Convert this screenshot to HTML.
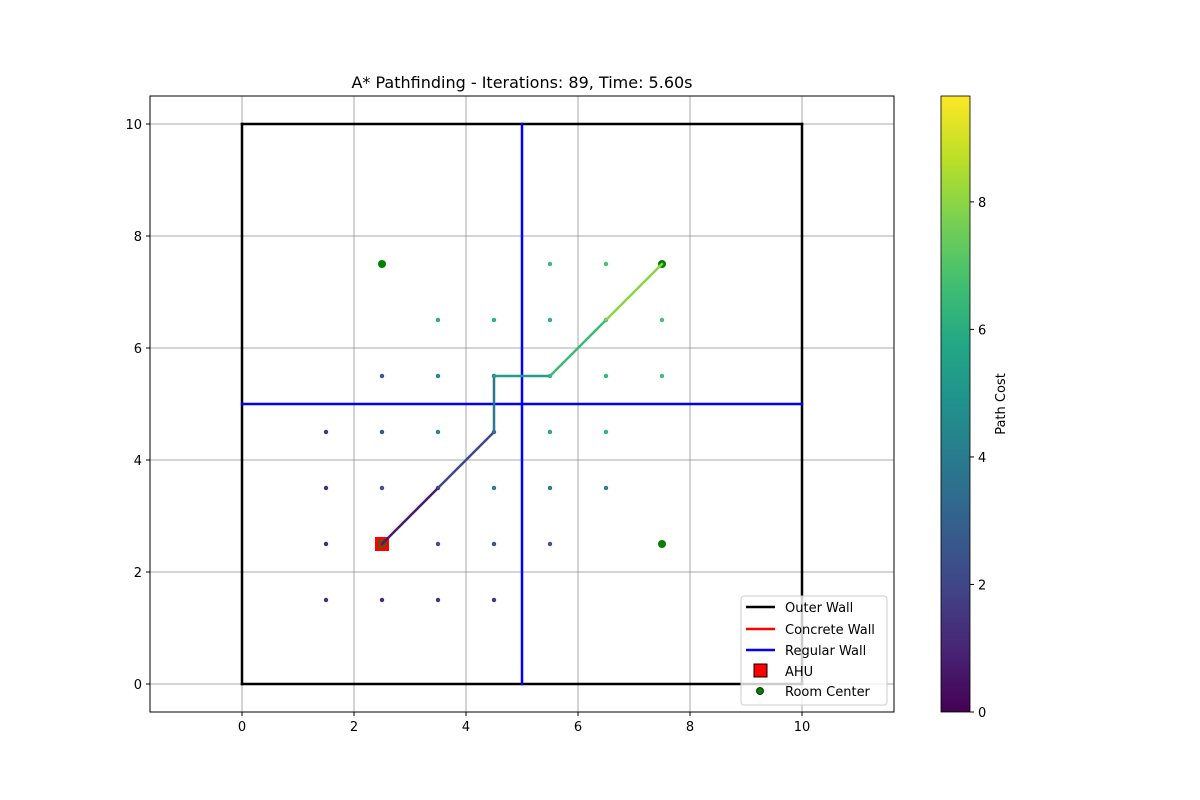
<!DOCTYPE html>
<html><head><meta charset="utf-8"><style>
body{margin:0;background:#fff;font-family:"Liberation Sans","DejaVu Sans",sans-serif}
svg{display:block}
</style></head><body>
<svg id="chart" width="1200" height="800" xmlns="http://www.w3.org/2000/svg" font-family="DejaVu Sans, Liberation Sans, sans-serif">
<defs>
<linearGradient id="vir" x1="0" y1="1" x2="0" y2="0">
<stop offset="0" stop-color="#440154"/><stop offset="0.1" stop-color="#482475"/><stop offset="0.2" stop-color="#414487"/><stop offset="0.3" stop-color="#355f8d"/><stop offset="0.4" stop-color="#2a788e"/><stop offset="0.5" stop-color="#21918c"/><stop offset="0.6" stop-color="#22a884"/><stop offset="0.7" stop-color="#44bf70"/><stop offset="0.8" stop-color="#7ad151"/><stop offset="0.9" stop-color="#bddf26"/><stop offset="1" stop-color="#fde725"/>
</linearGradient>
<clipPath id="clip"><rect x="150" y="96" width="744" height="616"/></clipPath>
</defs>
<g id="grid"></g>
<g id="walls" clip-path="url(#clip)"></g>
<g id="pts" clip-path="url(#clip)"></g>
<g id="path"></g>
<g id="marks"></g>
<rect x="150" y="96" width="744" height="616" fill="none" stroke="#000" stroke-width="1"/>
<g id="ticks" font-size="13"></g>
<text x="522" y="88" text-anchor="middle" font-size="16">A* Pathfinding - Iterations: 89, Time: 5.60s</text>
<g font-size="13">
<rect x="741" y="596" width="146" height="109" rx="3" fill="#fff" fill-opacity="0.8" stroke="#ccc"/>
<line x1="746" y1="607" x2="775" y2="607" stroke="#000" stroke-width="2.5"/>
<text x="785" y="612">Outer Wall</text>
<line x1="746" y1="629" x2="775" y2="629" stroke="#f00" stroke-width="2.5"/>
<text x="785" y="634">Concrete Wall</text>
<line x1="746" y1="650" x2="775" y2="650" stroke="#00f" stroke-width="2.5"/>
<text x="785" y="655">Regular Wall</text>
<rect x="754" y="664" width="13" height="13" fill="#f00" stroke="#000"/>
<text x="785" y="676">AHU</text>
<circle cx="760" cy="691" r="3.5" fill="#008000" stroke="#000" stroke-width="0.8"/>
<text x="785" y="696">Room Center</text>
</g>
<g font-size="13">
<rect x="941" y="96" width="29" height="616" fill="url(#vir)" stroke="#000" stroke-width="0.8"/>
<g id="cbticks"></g>
<text transform="translate(1005,404) rotate(-90)" text-anchor="middle">Path Cost</text>
</g>
</svg>
<script>
const NS="http://www.w3.org/2000/svg";
const xTicks=[0,2,4,6,8,10];
const yTicks=[0,2,4,6,8,10];
const cbTicks=[0,2,4,6,8];
const vmax=9.66;
const nodeX=[1.5,2.5,3.5,4.5, 1.5,3.5,4.5,5.5, 1.5,2.5,3.5,4.5,5.5,6.5, 1.5,2.5,3.5,4.5,5.5,6.5, 2.5,3.5,4.5,5.5,6.5,7.5, 3.5,4.5,5.5,6.5,7.5, 5.5,6.5,7.5];
const nodeY=[1.5,1.5,1.5,1.5, 2.5,2.5,2.5,2.5, 3.5,3.5,3.5,3.5,3.5,3.5, 4.5,4.5,4.5,4.5,4.5,4.5, 5.5,5.5,5.5,5.5,5.5,5.5, 6.5,6.5,6.5,6.5,6.5, 7.5,7.5,7.5];
const nodeCost=[1.2,1.1,1.3,1.4, 1.1,2.2,2.3,2.6, 1.2,2.3,1.5,4.0,3.9,4.2, 1.3,2.4,4.1,3.2,5.8,6.2, 2.6,4.4,4.4,5.9,6.4,6.6, 6.0,6.1,6.2,6.5,6.8, 6.5,6.8,7.7];
const pathX=[2.5,3.5,4.5,4.5,5.5,6.5,7.5];
const pathY=[2.5,3.5,4.5,5.5,5.5,6.5,7.5];
const pathCost=[0,1.41,2.83,4.83,5.83,7.24,8.66];
const roomX=[2.5,7.5,7.5];
const roomY=[7.5,7.5,2.5];
const wallX1=[0,10,10,0, 5,0];
const wallY1=[0,0,10,10, 0,5];
const wallX2=[10,10,0,0, 5,10];
const wallY2=[0,10,10,0, 10,5];
const wallType=["outer","outer","outer","outer","regular","regular"];
const ahuX=2.5, ahuY=2.5;

const sx=v=>242+56*v, sy=v=>684-56*v;
const cy=v=>712-616*v/vmax;
const vir=["#440154","#482475","#414487","#355f8d","#2a788e","#21918c","#22a884","#44bf70","#7ad151","#bddf26","#fde725"];
function hex(h){return [1,3,5].map(i=>parseInt(h.substr(i,2),16));}
function cmap(v){let t=Math.max(0,Math.min(1,v/vmax))*10;let i=Math.min(9,Math.floor(t));let f=t-i;const a=hex(vir[i]),b=hex(vir[i+1]);return "rgb("+a.map((c,k)=>Math.round(c+(b[k]-c)*f)).join(",")+")";}
function mk(tag,attrs,parent){const e=document.createElementNS(NS,tag);for(const k in attrs)e.setAttribute(k,attrs[k]);parent.appendChild(e);return e;}
const g=document.getElementById('grid'),tk=document.getElementById('ticks');
xTicks.forEach(v=>{
 const l=mk('line',{x1:sx(v),x2:sx(v),y1:96,y2:712,stroke:'#a8a8a8','stroke-width':1},g);
 
 
 mk('line',{x1:sx(v),x2:sx(v),y1:712,y2:716,stroke:'#000'},tk);
 const t=mk('text',{x:sx(v),y:731,'text-anchor':'middle'},tk);t.textContent=v;
 
 
});
yTicks.forEach(v=>{
 const l=mk('line',{x1:150,x2:894,y1:sy(v),y2:sy(v),stroke:'#a8a8a8','stroke-width':1},g);
 
 
 mk('line',{x1:146,x2:150,y1:sy(v),y2:sy(v),stroke:'#000'},tk);
 const t=mk('text',{x:142,y:sy(v)+5,'text-anchor':'end'},tk);t.textContent=v;
 
 
});
const cb=document.getElementById('cbticks');
cbTicks.forEach(v=>{
 mk('line',{x1:970,x2:974,y1:cy(v),y2:cy(v),stroke:'#000'},cb);
 const t=mk('text',{x:978,y:cy(v)+5},cb);t.textContent=v;
 
 
});
const w=document.getElementById('walls');
wallX1.forEach((_,i)=>{
 const l=mk('line',{x1:sx(wallX1[i]),y1:sy(wallY1[i]),x2:sx(wallX2[i]),y2:sy(wallY2[i]),stroke:wallType[i]=="outer"?"#000":"#00f",'stroke-width':2.5,'stroke-linecap':'square'},w);
 
 
});
const p=document.getElementById('pts');
nodeX.forEach((_,i)=>{
 const c=mk('circle',{cx:sx(nodeX[i]),cy:sy(nodeY[i]),r:2.2,fill:cmap(nodeCost[i])},p);
 
 
});
const m=document.getElementById('marks');
const a=mk('rect',{x:sx(ahuX)-7,y:sy(ahuY)-7,width:14,height:14,fill:'#f00'},m);


roomX.forEach((_,i)=>{
 const c=mk('circle',{cx:sx(roomX[i]),cy:sy(roomY[i]),r:4,fill:'#008000'},m);
 
 
});
const ac=mk('circle',{cx:sx(ahuX),cy:sy(ahuY),r:3.5,fill:'none',stroke:'#008000','stroke-width':1.5},m);


const pg=document.getElementById('path');
for(let i=0;i<pathX.length-1;i++){
 const l=mk('line',{x1:sx(pathX[i]),y1:sy(pathY[i]),x2:sx(pathX[i+1]),y2:sy(pathY[i+1]),stroke:cmap((pathCost[i]+pathCost[i+1])/2),'stroke-width':2.5,'stroke-linecap':'round'},pg);
 
 
}
pg.parentNode.appendChild(pg);
</script>
</body></html>
